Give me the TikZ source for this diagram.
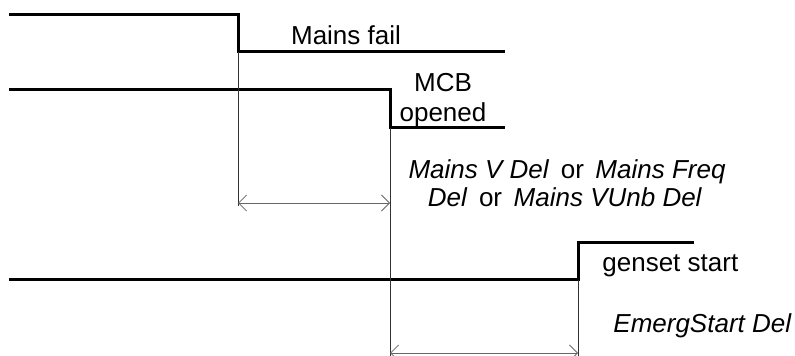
\documentclass[tikz,border=0pt]{standalone}
\usepackage{fontspec}
\setmainfont{Liberation Sans}
\usetikzlibrary{arrows.meta}

\begin{document}
\begin{tikzpicture}[
    x = 0.5pt, y = -0.5pt,
    every node/.style = {font = \fontsize{13pt}{15pt}\selectfont, inner sep = 0pt},
    signal/.style     = {line width = 1.5pt, line cap = rect},
    guide/.style      = {line width = 0.4pt, black!80},
    span/.style       = {line width = 0.4pt, black!60, {Straight Barb[length=4pt, width=8pt]}-{Straight Barb[length=4pt, width=8pt]}},
    lbl/.style        = {anchor = base},
]
\useasboundingbox (0,0) rectangle (795,356);

% ---------- waveform corners ----------
\coordinate (mainsA) at ( 10, 15);
\coordinate (mainsB) at (238, 15);
\coordinate (mainsC) at (238, 52);
\coordinate (mainsD) at (503, 52);

\coordinate (mcbA)   at ( 10, 90);
\coordinate (mcbB)   at (390, 90);
\coordinate (mcbC)   at (390,128);
\coordinate (mcbD)   at (503,128);

\coordinate (genA)   at ( 10,280);
\coordinate (genB)   at (578,280);
\coordinate (genC)   at (578,243);
\coordinate (genD)   at (692,243);

% ---------- guide ends ----------
\coordinate (failLow)  at (238,206);
\coordinate (mcbLow)   at (390,356);
\coordinate (genLow)   at (578,356);
\coordinate (failSpan) at (238,203);
\coordinate (mcbSpan)  at (390,203);
\coordinate (mcbEnd)   at (390,353);
\coordinate (genEnd)   at (578,353);

% ---------- signals ----------
\draw[signal] (mainsA) -- (mainsB) -- (mainsC) -- (mainsD);
\draw[signal] (mcbA) -- (mcbB) -- (mcbC) -- (mcbD);
\draw[signal] (genA) -- (genB) -- (genC) -- (genD);

% ---------- labels ----------
\node[lbl] (fail)   at (346, 45) {Mains fail};
\node[lbl] (mcb)    at (443, 92) {MCB};
\node[lbl] (opened) at (443,122) {opened};
\node[lbl] (delA)   at (567,179) {\textit{Mains V Del}\, or\, \textit{Mains Freq}};
\node[lbl] (delB)   at (565,207) {\textit{Del}\, or\, \textit{Mains VUnb Del}};
\node[lbl, anchor = base west] (genset) at (602,272) {genset start};
\node[lbl, anchor = base west] (emerg)  at (613,333) {\textit{EmergStart Del}};

% ---------- delay guides ----------
\draw[guide] (mainsC) -- (failLow);
\draw[guide] (mcbC) -- (mcbLow);
\draw[guide] (genB) -- (genLow);
\draw[span] (failSpan) -- (mcbSpan);
\draw[span] (mcbEnd) -- (genEnd);

\end{tikzpicture}
\end{document}
